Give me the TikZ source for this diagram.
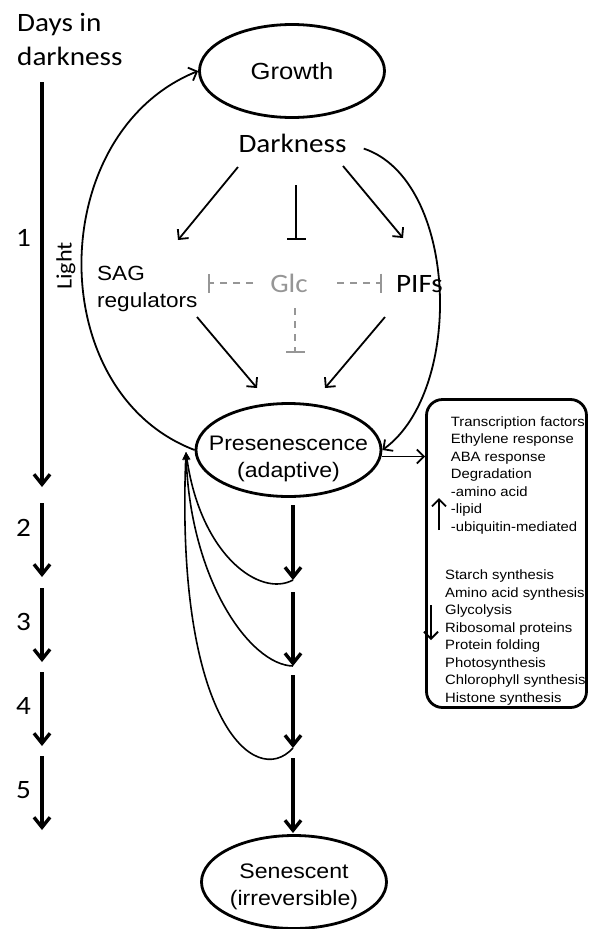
\documentclass[tikz,border=0pt]{standalone}
\usepackage{fontspec}
\setmainfont[FakeStretch=1.1]{Liberation Sans}
\newfontfamily\calf[FakeStretch=1.1]{Carlito}
\usetikzlibrary{arrows.meta,shapes.geometric}
\definecolor{glc}{RGB}{150,150,150}
\newcommand{\fsz}[2]{\fontsize{#1}{#2}\selectfont}
\begin{document}
\begin{tikzpicture}[x=1pt,y=-1pt,
 ell/.style={draw, ellipse, line width=2.8pt, minimum width=185pt, minimum height=93pt, inner sep=0pt, align=center},
 thinarr/.style={line width=1.8pt, -{Straight Barb[length=7pt,width=14pt]}},
 thickarr/.style={line width=3.4pt, -{Straight Barb[length=10pt,width=16pt]}},
 inhib/.style={line width=1.8pt, -{Bar[width=19pt]}},
 ginhib/.style={inhib, draw=glc, dash pattern=on 7pt off 6pt},
 fbarr/.style={line width=1.6pt, -{Stealth[length=8pt,width=7pt]}},
 lbl/.style={inner sep=0pt},
 calbig/.style={font=\calf\fsz{26.5}{33.5}},
 boxtxt/.style={lbl, align=left, anchor=base west, font=\fsz{13.5}{17.5}},
]
\fill[white] (0,0) rectangle (591,929);
\useasboundingbox (0,0) rectangle (591,929);

% left time axis
\node[lbl, anchor=base west, align=left, calbig] (days) at (17,65) {Days in\\darkness};
\node[lbl, anchor=base west, calbig] (n1) at (16,246.7) {1};
\node[lbl, anchor=base west, calbig] (n2) at (16,536.7) {2};
\node[lbl, anchor=base west, calbig] (n3) at (16,630) {3};
\node[lbl, anchor=base west, calbig] (n4) at (16,714) {4};
\node[lbl, anchor=base west, calbig] (n5) at (16,798.3) {5};
\coordinate (t0) at (42,82);  \coordinate (t1) at (42,487);
\coordinate (t2) at (42,503); \coordinate (t3) at (42,577);
\coordinate (t4) at (42,588); \coordinate (t5) at (42,662);
\coordinate (t6) at (42,672); \coordinate (t7) at (42,746);
\coordinate (t8) at (42,756); \coordinate (t9) at (42,830);
\draw[thickarr] (t0) -- (t1);
\draw[thickarr] (t2) -- (t3);
\draw[thickarr] (t4) -- (t5);
\draw[thickarr] (t6) -- (t7);
\draw[thickarr] (t8) -- (t9);

% main states
\node[ell, font=\fsz{23.3}{28}] (grow) at (292,71) {Growth};
\node[ell, font=\fsz{21}{27}, inner xsep=-25pt, text height=54pt, text depth=0pt] (pres) at (288.5,450) {Presenescence\\(adaptive)};
\node[ell, font=\fsz{21}{27}, text height=46pt, text depth=0pt] (sen) at (294,882) {Senescent\\(irreversible)};

% regulators
\node[lbl, anchor=base, calbig] (dark) at (292.5,152) {Darkness};
\node[lbl, anchor=base west, align=left, font=\fsz{20.5}{27}] (sag) at (97,307) {SAG\\regulators};
\node[lbl, anchor=base, calbig, text=glc] (glc) at (289,292) {Glc};
\node[lbl, anchor=base, calbig] (pifs) at (419.5,292) {PIFs};
\node[lbl, rotate=90, font=\calf\fsz{22}{26}] (light) at (66,266) {Light};

\coordinate (dl1) at (238,167); \coordinate (dl2) at (178,240);
\coordinate (di1) at (296,185); \coordinate (di2) at (296,240);
\coordinate (dr1) at (343,166); \coordinate (dr2) at (403,238);
\coordinate (sa1) at (197,317); \coordinate (sa2) at (257,388);
\coordinate (pf1) at (385,317); \coordinate (pf2) at (325,388);
\draw[thinarr] (dl1) -- (dl2);
\draw[inhib] (di1) -- (di2);
\draw[thinarr] (dr1) -- (dr2);
\draw[thinarr] (sa1) -- (sa2);
\draw[thinarr] (pf1) -- (pf2);

\coordinate (gl1) at (253,283); \coordinate (gl2) at (208,283);
\coordinate (gr1) at (337,283); \coordinate (gr2) at (382,283);
\coordinate (gd1) at (295,308); \coordinate (gd2) at (295,353);
\draw[ginhib] (gl1) -- (gl2);
\draw[ginhib] (gr1) -- (gr2);
\draw[ginhib] (gd1) -- (gd2);

% big loops
\draw[line width=1.8pt, -{Straight Barb[length=7pt,width=14pt]}]
  (pres.west) .. controls (42,392) and (45,133) .. (grow.west);
\draw[line width=1.8pt, -{Straight Barb[length=7pt,width=14pt]}, shorten <=18pt]
  (dark.east) .. controls (458,180) and (465,390) .. (pres.east);

% output box
\node[draw, rounded corners=16pt, line width=2.8pt, minimum width=160pt, minimum height=308pt, inner sep=0pt] (box) at (506.5,553.5) {};
\draw[thinarr] (pres.-4) -- (box.west |- pres.-4);
\node[boxtxt] (upl) at (450.7,531) {Transcription factors\\Ethylene response\\ABA response\\Degradation\\-amino acid\\-lipid\\-ubiquitin-mediated};
\node[boxtxt] (dnl) at (445,702.3) {Starch synthesis\\Amino acid synthesis\\Glycolysis\\Ribosomal proteins\\Protein folding\\Photosynthesis\\Chlorophyll synthesis\\Histone synthesis};
\coordinate (ua1) at (439,530); \coordinate (ua2) at (439,498);
\coordinate (da1) at (431,605); \coordinate (da2) at (431,640);
\draw[thinarr] (ua1) -- (ua2);
\draw[thinarr] (da1) -- (da2);

% progression column
\coordinate (m0) at (293,505); \coordinate (m1) at (293,580);
\coordinate (m2) at (293,592); \coordinate (m3) at (293,666);
\coordinate (m4) at (293,675); \coordinate (m5) at (293,748);
\coordinate (m6) at (293,758); \coordinate (m7) at (293,833);
\draw[thickarr] (m0) -- (m1);
\draw[thickarr] (m2) -- (m3);
\draw[thickarr] (m4) -- (m5);
\draw[thickarr] (m6) -- (m7);

% reversion curves
\coordinate (fb) at (186,452);
\draw[fbarr] (m1) .. controls (260,598) and (200,555) .. (fb);
\draw[fbarr] (m3) .. controls (250,665) and (190,580) .. (fb);
\draw[fbarr] (m5) .. controls (255,790) and (175,720) .. (fb);
\end{tikzpicture}
\end{document}
